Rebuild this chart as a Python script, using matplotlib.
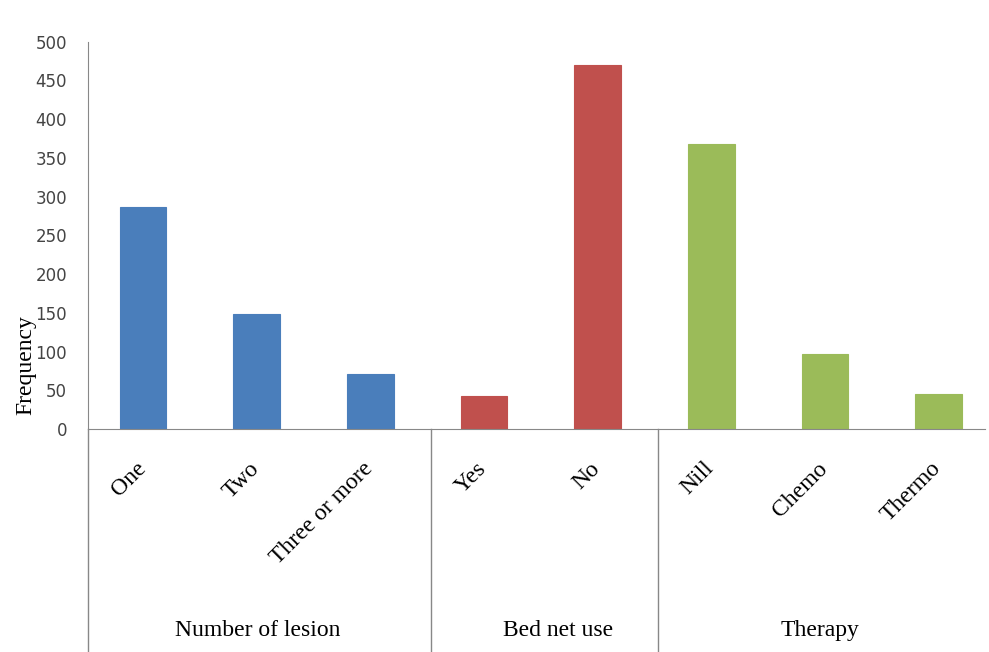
import numpy as np
import matplotlib.pyplot as plt

# categories and frequencies for each group
groups = ["Number of lesion", "Bed net use", "Therapy"]
lesionLabels = ["One", "Two", "Three or more"]
lesionCounts = [287, 149, 71]
bedNetLabels = ["Yes", "No"]
bedNetCounts = [43, 470]
therapyLabels = ["Nill", "Chemo", "Thermo"]
therapyCounts = [368, 97, 45]
groupColors = ["#4a7ebb", "#c0504d", "#9bbb59"]

labels = lesionLabels + bedNetLabels + therapyLabels
counts = lesionCounts + bedNetCounts + therapyCounts
sizes = [len(lesionLabels), len(bedNetLabels), len(therapyLabels)]
colors = []
for c, n in zip(groupColors, sizes):
    colors += [c] * n

serif = "Liberation Serif"

fig = plt.figure(figsize=(9.89, 6.52), dpi=100)
ax = fig.add_axes([0.089, 0.342, 0.907, 0.594])

x = np.arange(len(labels))
ax.bar(x, counts, width=0.41, color=colors, edgecolor=colors, linewidth=0.8)

ax.set_xlim(-0.485, 7.41)
ax.set_ylim(0, 500)
ax.set_yticks(np.arange(0, 501, 50))
ax.tick_params(axis="y", length=0, labelsize=12, labelcolor="#444444", pad=15)
ax.set_xticks([])
for s in ["top", "right"]:
    ax.spines[s].set_visible(False)
ax.spines["left"].set_color("#888888")
ax.spines["bottom"].set_color("#888888")

ax.set_ylabel("Frequency", family=serif, fontsize=17)
ax.yaxis.set_label_coords(-0.058, 0.165)

# rotated category labels under the bars
trans = ax.get_xaxis_transform()
for xi, lab in zip(x, labels):
    ax.text(xi + 0.06, -0.075, lab, rotation=45, ha="right", va="top",
            family=serif, fontsize=17, transform=trans)

# group separators and group names
edges = np.concatenate([[0], np.cumsum(sizes)]) - 0.5
edges[0] = -0.485
for e in edges[:-1]:
    e = e + 0.03 if e > 0 else e
    ax.plot([e, e], [0, -0.95], color="#888888", lw=1, transform=trans,
            clip_on=False)
nameShift = [0.0, 0.15, 0.0]
for i, g in enumerate(groups):
    right = min(edges[i + 1], 7.41)
    mid = (edges[i] + right) / 2 + nameShift[i]
    ax.text(mid, -0.52, g, ha="center", va="center",
            family=serif, fontsize=17, transform=trans)

fig.savefig("out.png", dpi=100)
